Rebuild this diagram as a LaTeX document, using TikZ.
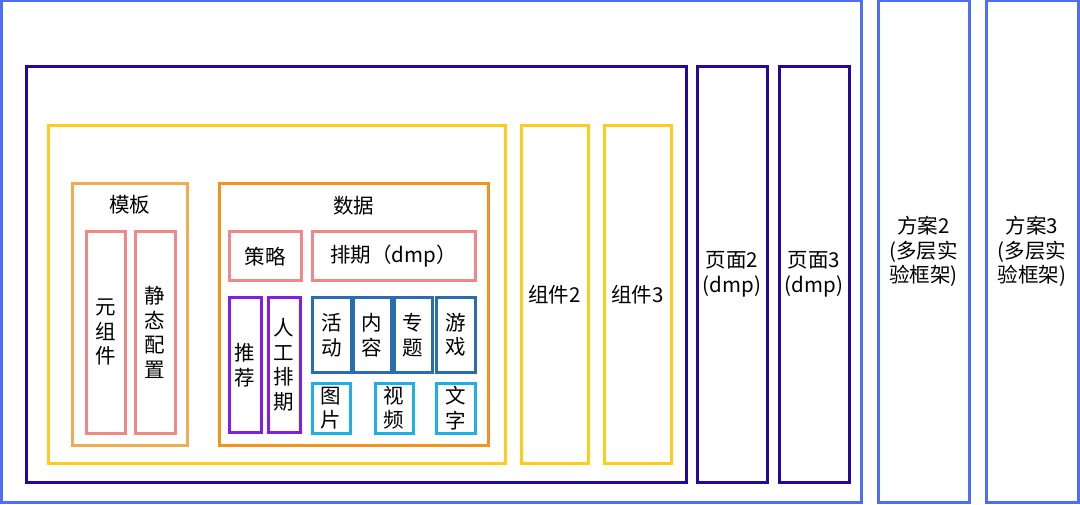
\documentclass[tikz,border=0pt]{standalone}
\usepackage{fontspec}
\setmainfont{Noto Sans CJK SC}
\definecolor{cBright}{RGB}{77,110,245}
\definecolor{cDark}{RGB}{32,8,160}
\definecolor{cYellow}{RGB}{255,204,30}
\definecolor{cTpl}{RGB}{240,172,80}
\definecolor{cData}{RGB}{245,146,30}
\definecolor{cPink}{RGB}{240,136,136}
\definecolor{cPurple}{RGB}{130,30,225}
\definecolor{cSteel}{RGB}{40,110,175}
\definecolor{cCyan}{RGB}{28,176,228}
\tikzset{
  box/.style={draw=#1, line width=3pt, rectangle, inner sep=0pt, outer sep=0pt,
    align=center, font=\fontsize{20.5}{24.5}\selectfont, text=black},
  lbl/.style={inner sep=0pt, align=center, font=\fontsize{20.5}{24.5}\selectfont, text=black},
}
\begin{document}
\begin{tikzpicture}[x=1pt,y=-1pt]
\useasboundingbox (0,0) rectangle (1080,505);
\fill[white] (0,0) rectangle (1080,505);
% scheme level
\node[box=cBright, minimum width=860pt, minimum height=501pt] (outer) at (431,251.5) {};
\node[box=cBright, minimum width=91pt, minimum height=501pt] (fa2) at (923.5,251.5) {方案2\\(多层实\\验框架)};
\node[box=cBright, minimum width=92pt, minimum height=501pt] (fa3) at (1032,251.5) {方案3\\(多层实\\验框架)};
% page level
\node[box=cDark, minimum width=660pt, minimum height=415pt] (page1) at (356,274.5) {};
\node[box=cDark, minimum width=70pt, minimum height=415pt] (page2) at (732,274.5) {页面2\\(dmp)};
\node[box=cDark, minimum width=70pt, minimum height=415pt] (page3) at (814,274.5) {页面3\\(dmp)};
% component level
\node[box=cYellow, minimum width=457pt, minimum height=337pt] (comp1) at (276.5,294.5) {};
\node[box=cYellow, minimum width=67pt, minimum height=337pt] (comp2) at (554.5,294.5) {组件2};
\node[box=cYellow, minimum width=67pt, minimum height=337pt] (comp3) at (637.5,294.5) {组件3};
% template
\node[box=cTpl, minimum width=115pt, minimum height=261pt] (tpl) at (129.5,314.5) {};
\node[lbl] (tpllbl) at (129.5,205) {模板};
\node[box=cPink, minimum width=39pt, minimum height=201pt] (yuan) at (105.5,332.5) {元\\组\\件};
\node[box=cPink, minimum width=40pt, minimum height=201pt] (jing) at (155,332.5) {静\\态\\配\\置};
% data
\node[box=cData, minimum width=269pt, minimum height=261pt] (data) at (353.5,314.5) {};
\node[lbl] (datalbl) at (353.5,206) {数据};
\node[box=cPink, minimum width=72pt, minimum height=49pt] (celue) at (265,256.5) {策略};
\node[box=cPink, minimum width=163pt, minimum height=49pt] (paiqi) at (393.5,256.5) {排期（dmp）};
\node[box=cPurple, minimum width=32pt, minimum height=134pt] (tuijian) at (245,365) {推\\荐};
\node[box=cPurple, minimum width=32pt, minimum height=134pt] (rengong) at (284,365) {人\\工\\排\\期};
\node[box=cSteel, minimum width=39pt, minimum height=74pt] (huodong) at (331.5,335) {活\\动};
\node[box=cSteel, minimum width=38pt, minimum height=74pt] (neirong) at (372,335) {内\\容};
\node[box=cSteel, minimum width=38pt, minimum height=74pt] (zhuanti) at (413,335) {专\\题};
\node[box=cSteel, minimum width=39pt, minimum height=74pt] (youxi) at (455.5,335) {游\\戏};
\node[box=cCyan, minimum width=38pt, minimum height=50pt] (tupian) at (331,408) {图\\片};
\node[box=cCyan, minimum width=38pt, minimum height=50pt] (shipin) at (394,408) {视\\频};
\node[box=cCyan, minimum width=39pt, minimum height=50pt] (wenzi) at (455.5,408) {文\\字};
\end{tikzpicture}
\end{document}
